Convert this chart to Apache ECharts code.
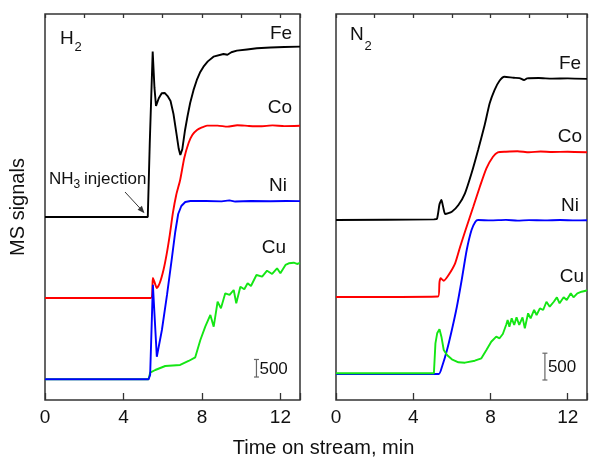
<!DOCTYPE html>
<html>
<head>
<meta charset="utf-8">
<script src="https://cdn.jsdelivr.net/npm/echarts@6/dist/echarts.min.js"></script>
<style>
html, body { margin: 0; padding: 0; background: #fff; }
#chart { width: 590px; height: 458px; }
</style>
</head>
<body>
<div id="chart"></div>
<script>
// time on stream (min) vs MS signal (a.u.)
const h2Fe = [[0,5215],[5.24,5215],[5.34,7300],[5.49,9927],[5.58,8900],[5.66,8379],[5.8,8600],[5.95,8740],[6.1,8750],[6.25,8660],[6.4,8520],[6.55,8150],[6.7,7600],[6.82,7150],[6.9,6983],[7.0,7150],[7.14,7695],[7.27,8100],[7.4,8465],[7.57,8830],[7.74,9120],[7.9,9330],[8.08,9499],[8.3,9650],[8.59,9784],[9.1,9861],[9.3,9840],[9.5,9910],[9.78,9955],[10.3,9990],[10.8,10023],[11.5,10045],[12.2,10060],[13,10069]];
const h2Co = [[0,2907],[5.40,2907],[5.50,3477],[5.60,3330],[5.70,3192],[5.85,3334],[6.04,3705],[6.2,4150],[6.36,4700],[6.52,5330],[6.69,5843],[6.89,6270],[7.10,6897],[7.32,7325],[7.51,7553],[7.75,7695],[8.0,7766],[8.26,7818],[8.8,7820],[9.3,7790],[9.8,7830],[10.4,7810],[11,7800],[11.6,7825],[12.2,7805],[13,7815]];
const h2Ni = [[0,590],[5.28,590],[5.36,712],[5.50,3280],[5.56,3326],[5.70,1234],[5.96,1995],[6.22,2993],[6.47,4047],[6.64,4788],[6.79,5301],[6.95,5529],[7.15,5643],[7.41,5672],[8.2,5670],[9,5660],[9.4,5690],[9.7,5655],[10.5,5670],[11.5,5665],[12.3,5672],[13,5668]];
const h2Cu = [[0,590],[5.28,590],[5.36,778],[5.62,855],[6.13,969],[6.89,998],[7.32,1112],[7.66,1217],[7.92,1710],[8.17,2089],[8.43,2423],[8.6,2089],[8.8,2802],[8.97,2613],[9.19,3041],[9.41,2993],[9.62,3135],[9.75,2756],[9.96,3229],[10.16,3155],[10.33,3326],[10.5,3249],[10.78,3563],[11.07,3514],[11.32,3685],[11.58,3591],[11.83,3753],[12.0,3611],[12.26,3848],[12.43,3896],[12.68,3913],[12.85,3876],[13,3905]];

const n2Fe = [[0,3357],[5.07,3370],[5.23,3380],[5.36,3650],[5.46,3730],[5.55,3600],[5.66,3469],[6.0,3512],[6.34,3637],[6.68,3855],[7.02,4228],[7.36,4663],[7.7,5129],[7.96,5534],[8.21,5782],[8.47,5955],[8.72,6030],[9.2,6010],[9.5,6005],[9.74,5968],[9.9,6000],[10.5,6005],[11.2,5995],[12,6000],[13,5990]];
const n2Co = [[0,1921],[5.29,1930],[5.36,2200],[5.42,2270],[5.58,2225],[5.83,2331],[6.17,2549],[6.43,2859],[6.68,3139],[7.11,3605],[7.45,3978],[7.79,4321],[8.13,4538],[8.38,4620],[8.8,4631],[9.4,4640],[10,4620],[10.6,4635],[11.2,4625],[12,4630],[13,4620]];
const n2Ni = [[0,485],[5.32,485],[5.49,621],[5.75,933],[6.0,1306],[6.26,1740],[6.51,2238],[6.77,2798],[7.02,3171],[7.22,3325],[7.36,3357],[8,3350],[8.8,3360],[9.4,3345],[10,3355],[10.8,3350],[11.6,3358],[12.4,3350],[13,3352]];
const n2Cu = [[0,498],[5.07,498],[5.15,1057],[5.24,1244],[5.36,1319],[5.46,1181],[5.58,933],[5.75,839],[6.0,759],[6.34,703],[6.68,696],[7.19,733],[7.53,778],[7.79,933],[8.04,1087],[8.3,1181],[8.47,1151],[8.64,1231],[8.81,1399],[8.89,1492],[8.98,1367],[9.1,1524],[9.23,1399],[9.35,1542],[9.49,1399],[9.66,1542],[9.78,1337],[9.95,1617],[10.08,1524],[10.26,1679],[10.39,1585],[10.56,1710],[10.73,1679],[10.9,1833],[11.07,1740],[11.28,1833],[11.44,1915],[11.58,1803],[11.79,1915],[11.95,1865],[12.16,1990],[12.3,1915],[12.5,1990],[12.72,2020],[12.94,2038],[13,2052]];

const metals = ['Fe', 'Co', 'Ni', 'Cu'];
const xTicks = [0, 4, 8, 12];
const scaleBarSize = 500;
const scaleBarH2 = [10.78, 655];   // [time, signal at bar bottom]
const scaleBarN2 = [10.82, 373];

const colors = { Fe: '#000000', Co: '#ff0000', Ni: '#0000ff', Cu: '#14e614' };
const FONT = '"Liberation Sans", Arial, sans-serif';

const chart = echarts.init(document.getElementById('chart'), null, { renderer: 'canvas' });

const line = (name, data, ax, smooth) => ({
  type: 'line', name, data,
  xAxisIndex: ax * 2, yAxisIndex: ax,
  symbol: 'none', showSymbol: false,
  smooth: smooth || false,
  lineStyle: { color: colors[name], width: 1.9 },
  itemStyle: { color: colors[name] },
  animation: false
})

const scaleBar = (pos, ax) => ({
  type: 'custom', xAxisIndex: ax * 2, yAxisIndex: ax,
  data: [[pos[0], pos[1], pos[1] + scaleBarSize]],
  animation: false,
  renderItem: (params, api) => {
    const top = api.coord([api.value(0), api.value(2)])
    const bot = api.coord([api.value(0), api.value(1)])
    const st = { stroke: '#666', lineWidth: 1.2 }
    return {
      type: 'group',
      children: [
        { type: 'line', shape: { x1: top[0], y1: top[1], x2: bot[0], y2: bot[1] }, style: st },
        { type: 'line', shape: { x1: top[0] - 2.5, y1: top[1], x2: top[0] + 2.5, y2: top[1] }, style: st },
        { type: 'line', shape: { x1: bot[0] - 2.5, y1: bot[1], x2: bot[0] + 2.5, y2: bot[1] }, style: st },
        { type: 'text', style: { text: String(scaleBarSize), x: top[0] + 3, y: (top[1] + bot[1]) / 2 + 1,
          align: 'left', verticalAlign: 'middle', font: '17px ' + FONT, fill: '#111' } }
      ]
    }
  }
})

const xMajor = (grid) => ({
  type: 'value', gridIndex: grid, min: 0, max: 13, interval: 4,
  axisLine: { show: false },
  axisTick: { show: true, inside: true, length: 7, lineStyle: { color: '#333', width: 1.3 } },
  axisLabel: { margin: 8, fontSize: 19, fontFamily: FONT, color: '#111',
    formatter: v => (xTicks.includes(v) ? String(v) : '') },
  splitLine: { show: false }
})
const xMinor = (grid) => ({
  type: 'value', gridIndex: grid, min: 0, max: 13, interval: 2,
  axisLine: { show: false },
  axisTick: { show: true, inside: true, length: 4, lineStyle: { color: '#333', width: 1.3 } },
  axisLabel: { show: false },
  splitLine: { show: false }
})
const yAxis = (grid, max, name) => ({
  type: 'value', gridIndex: grid, min: 0, max,
  axisLine: { show: false }, axisTick: { show: false }, axisLabel: { show: false },
  splitLine: { show: false },
  name, nameLocation: 'middle', nameGap: 17,
  nameTextStyle: { fontSize: 20, fontFamily: FONT, color: '#111' }
})

const txt = (text, x, y, size, align) => ({
  type: 'text', x, y,
  style: { text, font: size + 'px ' + FONT, fill: '#111', align: align || 'center', verticalAlign: 'middle' }
})

// labels beside the curves
const h2LabelPos = [[281, 34], [280, 108], [278, 186], [274, 248]];
const n2LabelPos = [[570, 64], [570, 137], [570, 206], [572, 277]];

chart.setOption({
  backgroundColor: '#ffffff',
  animation: false,
  grid: [
    { left: 45, top: 14, width: 255, height: 386, show: true, borderColor: '#333', borderWidth: 1.5 },
    { left: 336, top: 14, width: 254, height: 386, show: true, borderColor: '#333', borderWidth: 1.5 }
  ],
  xAxis: [xMajor(0), xMinor(0), xMajor(1), xMinor(1)],
  yAxis: [yAxis(0, 11000, 'MS signals'), yAxis(1, 7200, '')],
  series: [
    line('Fe', h2Fe, 0), line('Co', h2Co, 0, 0.2), line('Cu', h2Cu, 0), line('Ni', h2Ni, 0),
    line('Fe', n2Fe, 1, 0.2), line('Co', n2Co, 1, 0.2), line('Ni', n2Ni, 1, 0.2), line('Cu', n2Cu, 1),
    scaleBar(scaleBarH2, 0), scaleBar(scaleBarN2, 1)
  ],
  graphic: [
    ...metals.map((m, i) => txt(m, h2LabelPos[i][0], h2LabelPos[i][1], 19)),
    ...metals.map((m, i) => txt(m, n2LabelPos[i][0], n2LabelPos[i][1], 19)),
    txt('H', 60, 38.5, 19, 'left'), txt('2', 74.5, 47, 13, 'left'),
    txt('N', 350, 35, 19, 'left'), txt('2', 364.5, 46.5, 13, 'left'),
    txt('NH', 49, 179.5, 17, 'left'), txt('3', 73.5, 184.5, 12, 'left'),
    txt('injection', 84, 179.5, 17, 'left'),
    { type: 'line', shape: { x1: 125, y1: 192, x2: 143.5, y2: 212 }, style: { stroke: '#333', lineWidth: 1 } },
    { type: 'polygon', shape: { points: [[144.5, 213.2], [137.6, 209.8], [141.9, 205.8]] }, style: { fill: '#333' } },
    txt('Time on stream, min', 323.5, 448, 20)
  ]
})
</script>
</body>
</html>
